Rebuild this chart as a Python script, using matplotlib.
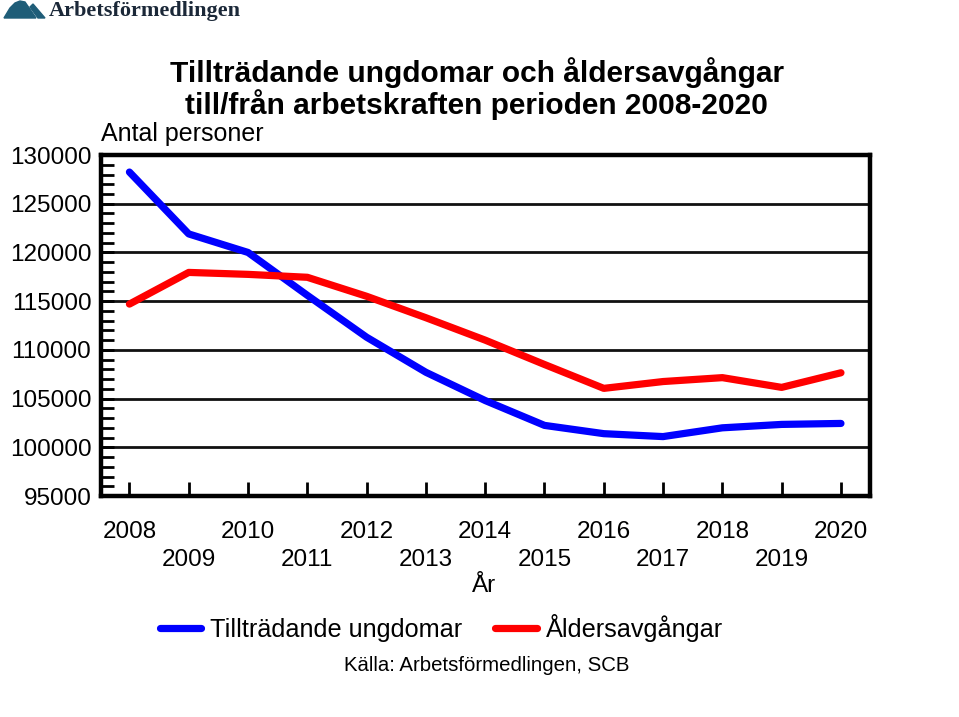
import matplotlib
matplotlib.use("Agg")
import matplotlib.pyplot as plt
from matplotlib.patches import Polygon
from matplotlib.ticker import MultipleLocator

plt.rcParams['font.family'] = ['Liberation Sans', 'DejaVu Sans']

years = [2008, 2009, 2010, 2011, 2012, 2013, 2014, 2015, 2016, 2017, 2018, 2019, 2020]
tilltradande = [128250, 121900, 120000, 115600, 111300, 107700, 104800, 102250,
                101400, 101100, 102000, 102350, 102450]
aldersavgangar = [114700, 117950, 117750, 117450, 115500, 113300, 111000, 108500,
                  106050, 106750, 107150, 106150, 107650]
y_ticks = [95000, 100000, 105000, 110000, 115000, 120000, 125000, 130000]

W, H = 959, 717

def px(x, y):
    # pixel position -> figure fraction
    return [x / W, 1 - y / H]

fig = plt.figure(figsize=(9.59, 7.17), dpi=100)
ax = fig.add_axes([0.1053, 0.3082, 0.8019, 0.4756])

for y in y_ticks[1:-1]:
    ax.axhline(y, color='#111111', lw=2, zorder=1)

l1, = ax.plot(years, tilltradande, color='#0000ff', lw=5.2, solid_capstyle='round',
              solid_joinstyle='round', zorder=3)
l2, = ax.plot(years, aldersavgangar, color='#ff0000', lw=5.2, solid_capstyle='round',
              solid_joinstyle='round', zorder=3)

ax.set_xlim(2007.52, 2020.49)
ax.set_ylim(95000, 130000)

for s in ax.spines.values():
    s.set_linewidth(3.2)
    s.set_color('black')

ax.set_yticks(y_ticks)
ax.set_yticklabels([str(v) for v in y_ticks], fontsize=17.5)
ax.yaxis.set_minor_locator(MultipleLocator(1000))
ax.tick_params(axis='y', which='major', direction='in', length=9, width=2, pad=7)
ax.tick_params(axis='y', which='minor', direction='in', length=9, width=2)

ax.set_xticks(years)
ax.set_xticklabels([str(y) for y in years], fontsize=17.5)
ax.tick_params(axis='x', which='major', direction='in', length=10, width=2)
for i, t in enumerate(ax.xaxis.get_major_ticks()):
    t.set_pad(18 if i % 2 == 0 else 38)

ax.set_xlabel('År', fontsize=17.5)
ax.xaxis.set_label_coords(0.498, -0.232)

fig.text(0.105, 0.796, 'Antal personer', fontsize=18, ha='left', va='bottom')
fig.text(0.497, 0.877, 'Tillträdande ungdomar och åldersavgångar\ntill/från arbetskraften perioden 2008-2020',
         fontsize=21.5, fontweight='bold', ha='center', va='center', linespacing=1.05)

# legend
fig.legend([l1, l2], ['Tillträdande ungdomar', 'Åldersavgångar'], loc='center',
           bbox_to_anchor=(0.46, 0.124), ncol=2, frameon=False, fontsize=18.2,
           handlelength=1.65, handletextpad=0.35, columnspacing=1.3)
fig.text(0.508, 0.072, 'Källa: Arbetsförmedlingen, SCB', fontsize=14.7, ha='center', va='center')

# logo
logo_col = '#1f5d78'
fig.patches.append(Polygon([px(4, 18), px(10, 8), px(15, 3), px(20, 1), px(25, 2),
                            px(36, 18)], closed=True, transform=fig.transFigure,
                           color=logo_col))
fig.patches.append(Polygon([px(30, 7), px(33, 4), px(45, 18), px(38, 18)],
                           closed=True, transform=fig.transFigure, color=logo_col))
fig.text(0.051, 0.985, 'Arbetsförmedlingen', fontsize=16, fontweight='bold',
         family='Liberation Serif', color='#1b2838', ha='left', va='center')

fig.savefig('out.png', dpi=100)
